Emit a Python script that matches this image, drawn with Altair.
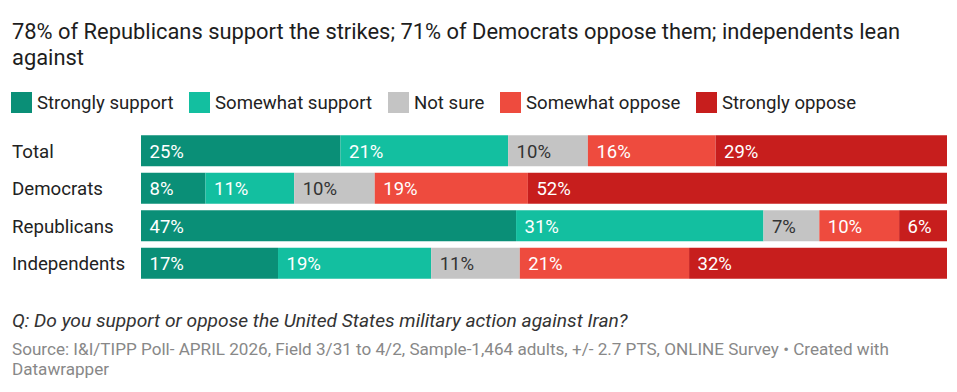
import altair as alt
import pandas as pd

groups = ["Total", "Democrats", "Republicans", "Independents"]
responses = ["Strongly support", "Somewhat support", "Not sure", "Somewhat oppose", "Strongly oppose"]
colors = ["#0a8f77", "#13bfa0", "#c4c4c4", "#ee4b3e", "#c71e1d"]

total_vals = [25, 21, 10, 16, 29]
dem_vals = [8, 11, 10, 19, 52]
rep_vals = [47, 31, 7, 10, 6]
ind_vals = [17, 19, 11, 21, 32]

title_lines = ["78% of Republicans support the strikes; 71% of Democrats oppose them; independents lean", "against"]
question = "Q: Do you support or oppose the United States military action against Iran?"
source_lines = ["Source: I&I/TIPP Poll- APRIL 2026, Field 3/31 to 4/2, Sample-1,464 adults, +/- 2.7 PTS, ONLINE Survey \u2022 Created with", "Datawrapper"]

rows = []
for g, vals in zip(groups, [total_vals, dem_vals, rep_vals, ind_vals]):
    for i, (r, v) in enumerate(zip(responses, vals)):
        rows.append({"group": g, "response": r, "value": v, "idx": i, "label": f"{v}%"})
df = pd.DataFrame(rows)

FONT = "Roboto"

yenc = alt.Y("group:N", sort=groups, axis=None,
             scale=alt.Scale(paddingInner=0.17, paddingOuter=0.085))

base = alt.Chart(df)

bars = base.mark_bar().encode(
    x=alt.X("value:Q", stack="normalize", axis=None, scale=alt.Scale(domain=[0, 1], nice=False)),
    y=yenc,
    color=alt.Color("response:N", sort=responses,
                    scale=alt.Scale(domain=responses, range=colors),
                    legend=alt.Legend(title=None, orient="none", direction="horizontal",
                                      legendX=-130, legendY=-40, symbolType="square",
                                      symbolSize=441, symbolStrokeWidth=0, symbolOpacity=1,
                                      labelFont=FONT, labelFontSize=18.6, labelColor="#222222",
                                      labelOffset=5, labelLimit=400, columnPadding=15, padding=0,
                                      columns=5)),
    order=alt.Order("idx:Q"),
)

labels = base.transform_joinaggregate(
    tot="sum(value)", groupby=["group"]
).transform_window(
    cum="sum(value)", sort=[alt.SortField("idx")], groupby=["group"]
).transform_calculate(
    start="(datum.cum - datum.value) / datum.tot"
).mark_text(align="left", baseline="middle", dx=8.5, dy=1, font=FONT, fontSize=18.5).encode(
    x=alt.X("start:Q"),
    y=yenc,
    text="label:N",
    color=alt.condition(alt.datum.response == "Not sure", alt.value("#333333"), alt.value("#ffffff")),
)

rowlab = alt.Chart(pd.DataFrame({"group": groups})).mark_text(
    align="left", baseline="middle", font=FONT, fontSize=18.7, color="#222222", dy=1
).encode(x=alt.value(-129), y=yenc, text="group:N")

def textline(txt, y, size, color, style="normal"):
    return alt.Chart(pd.DataFrame({"t": [txt]})).mark_text(
        align="left", baseline="alphabetic", font=FONT, fontSize=size, color=color, fontStyle=style
    ).encode(x=alt.value(-129), y=alt.value(y), text="t:N")

layers = [bars, labels, rowlab,
          textline(title_lines[0], -93, 21.9, "#1d1d1d"),
          textline(title_lines[1], -67, 21.9, "#1d1d1d"),
          textline(question, 195, 19.2, "#333333", "italic"),
          textline(source_lines[0], 223, 17.1, "#888888"),
          textline(source_lines[1], 243, 17.1, "#888888")]

chart = alt.layer(*layers).properties(
    width=806, height=150,
    autosize=alt.AutoSizeParams(type="none"),
    padding={"left": 133, "top": 124, "right": 2, "bottom": 102},
    background="white",
).configure_view(stroke=None)

chart.save("out.html", embed_options={"renderer": "svg", "actions": False})
